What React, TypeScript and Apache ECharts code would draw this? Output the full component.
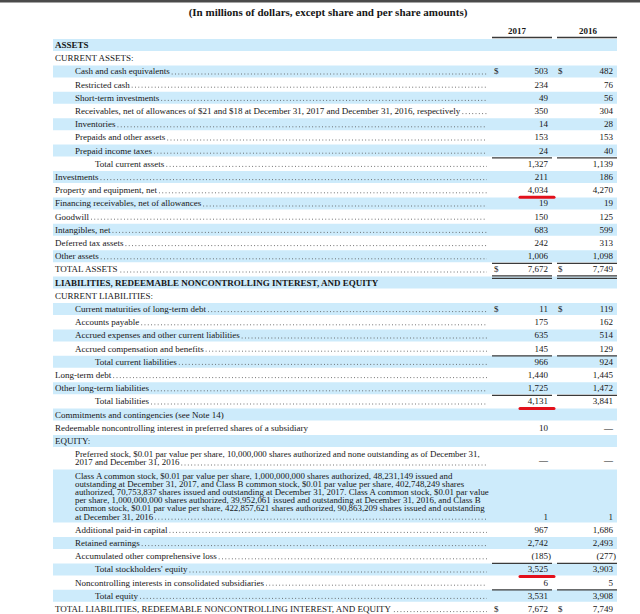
import React, { useEffect, useRef } from "react";
import * as echarts from "echarts";

const title = "(In millions of dollars, except share and per share amounts)";
const yearHeaders = ["2017", "2016"];

const labels = [
  "ASSETS",
  "CURRENT ASSETS:",
  "Cash and cash equivalents",
  "Restricted cash",
  "Short-term investments",
  "Receivables, net of allowances of $21 and $18 at December 31, 2017 and December 31, 2016, respectively",
  "Inventories",
  "Prepaids and other assets",
  "Prepaid income taxes",
  "Total current assets",
  "Investments",
  "Property and equipment, net",
  "Financing receivables, net of allowances",
  "Goodwill",
  "Intangibles, net",
  "Deferred tax assets",
  "Other assets",
  "TOTAL ASSETS",
  "LIABILITIES, REDEEMABLE NONCONTROLLING INTEREST, AND EQUITY",
  "CURRENT LIABILITIES:",
  "Current maturities of long-term debt",
  "Accounts payable",
  "Accrued expenses and other current liabilities",
  "Accrued compensation and benefits",
  "Total current liabilities",
  "Long-term debt",
  "Other long-term liabilities",
  "Total liabilities",
  "Commitments and contingencies (see Note 14)",
  "Redeemable noncontrolling interest in preferred shares of a subsidiary",
  "EQUITY:",
  "Preferred stock, $0.01 par value per share, 10,000,000 shares authorized and none outstanding as of December 31,\n2017 and December 31, 2016",
  "Class A common stock, $0.01 par value per share, 1,000,000,000 shares authorized, 48,231,149 issued and\noutstanding at December 31, 2017, and Class B common stock, $0.01 par value per share, 402,748,249 shares\nauthorized, 70,753,837 shares issued and outstanding at December 31, 2017. Class A common stock, $0.01 par value\nper share, 1,000,000,000 shares authorized, 39,952,061 issued and outstanding at December 31, 2016, and Class B\ncommon stock, $0.01 par value per share, 422,857,621 shares authorized, 90,863,209 shares issued and outstanding\nat December 31, 2016",
  "Additional paid-in capital",
  "Retained earnings",
  "Accumulated other comprehensive loss",
  "Total stockholders' equity",
  "Noncontrolling interests in consolidated subsidiaries",
  "Total equity",
  "TOTAL LIABILITIES, REDEEMABLE NONCONTROLLING INTEREST, AND EQUITY",
];

const indentLevels = [
  0, 0, 1, 1, 1, 1, 1, 1, 1, 2, 0, 0, 0, 0, 0, 0, 0, 0, 0, 0,
  1, 1, 1, 1, 2, 0, 0, 2, 0, 0, 0, 1, 1, 1, 1, 1, 2, 1, 2, 0,
];

const values2017 = [
  "", "", "503", "234", "49", "350", "14", "153", "24", "1,327",
  "211", "4,034", "19", "150", "683", "242", "1,006", "7,672", "", "",
  "11", "175", "635", "145", "966", "1,440", "1,725", "4,131", "", "10",
  "", "—", "1", "967", "2,742", "(185)", "3,525", "6", "3,531", "7,672",
];

const values2016 = [
  "", "", "482", "76", "56", "304", "28", "153", "40", "1,139",
  "186", "4,270", "19", "125", "599", "313", "1,098", "7,749", "", "",
  "119", "162", "514", "129", "924", "1,445", "1,472", "3,841", "", "—",
  "", "—", "1", "1,686", "2,493", "(277)", "3,903", "5", "3,908", "7,749",
];

const boldRows = [0, 18];
const noLeaderRows = [0, 1, 18, 19, 28, 29, 30];
const dollarRows = [2, 17, 20, 39];
const ruleAboveRows = [9, 17, 24, 27, 36, 38];
const doubleRuleBelowRows = [17];
const redMarkRows = [11, 27, 36];

const FONT = '"Liberation Serif", "Times New Roman", serif';

export default function App() {
  const ref = useRef<HTMLDivElement>(null);

  useEffect(() => {
    if (!ref.current) return;
    const chart = echarts.init(ref.current, null, { renderer: "svg" });

    const canvas = document.createElement("canvas");
    const ctx = canvas.getContext("2d")!;
    const measure = (t: string, bold: boolean, size: number) => {
      ctx.font = `${bold ? "bold " : ""}${size}px ${FONT}`;
      return ctx.measureText(t).width;
    };

    const PITCH = 13.2;
    const LINE = 8.2;
    const TOP = 45;
    const indentX = [55, 75, 95];
    const tableLeft = 53;
    const tableRight = 617;
    const leaderEnd = 487;
    const col = [
      { left: 492, right: 552, valueRight: 548, dollar: 494, head: 517 },
      { left: 557, right: 617, valueRight: 613, dollar: 558, head: 588 },
    ];
    const ink = "#161616";
    const ruleColor = "#3a3a3a";

    const firstY: number[] = [];
    const lastY: number[] = [];
    let cursor = TOP;
    labels.forEach((l) => {
      const n = l.split("\n").length;
      firstY.push(cursor);
      const last = cursor + (n - 1) * LINE;
      lastY.push(last);
      cursor = last + PITCH;
    });

    const elements: any[] = [];
    elements.push({
      type: "rect",
      shape: { x: 0, y: 0, width: 640, height: 2.5 },
      style: { fill: "#4a4a4a" },
    });
    elements.push({
      type: "text",
      x: 328,
      y: 12,
      style: {
        text: title,
        fontFamily: FONT,
        fontSize: 11,
        fontWeight: "bold",
        fill: ink,
        align: "center",
        verticalAlign: "middle",
      },
    });
    yearHeaders.forEach((h, c) => {
      elements.push({
        type: "text",
        x: col[c].head,
        y: 31,
        style: {
          text: h,
          fontFamily: FONT,
          fontSize: 9,
          fontWeight: "bold",
          fill: ink,
          align: "center",
          verticalAlign: "middle",
        },
      });
      elements.push({
        type: "line",
        shape: { x1: col[c].left, y1: 37.5, x2: col[c].right, y2: 37.5 },
        style: { stroke: ruleColor, lineWidth: 1.4 },
      });
    });

    // bands
    labels.forEach((_, i) => {
      if (i % 2 !== 0) return;
      elements.push({
        type: "rect",
        shape: {
          x: tableLeft,
          y: firstY[i] - 6,
          width: tableRight - tableLeft,
          height: lastY[i] - firstY[i] + 12,
        },
        style: { fill: "#cdebfb" },
      });
    });

    labels.forEach((l, i) => {
      const bold = boldRows.includes(i);
      const x = indentX[indentLevels[i]];
      const lines = l.split("\n");
      const multi = lines.length > 1;
      const size = multi ? 8.4 : 9;
      const sx = multi ? 1.055 : 1;
      lines.forEach((ln, k) => {
        elements.push({
          type: "text",
          x,
          y: firstY[i] + k * LINE,
          scaleX: sx,
          style: {
            text: ln,
            fontFamily: FONT,
            fontSize: size,
            fontWeight: bold ? "bold" : "normal",
            fill: ink,
            align: "left",
            verticalAlign: "middle",
          },
        });
      });
      if (!noLeaderRows.includes(i)) {
        const w = measure(lines[lines.length - 1], bold, size) * sx;
        const start = x + w + 2;
        if (start < leaderEnd) {
          elements.push({
            type: "line",
            shape: { x1: start, y1: lastY[i] + 2.6, x2: leaderEnd, y2: lastY[i] + 2.6 },
            style: { stroke: "#555", lineWidth: 0.9, lineDash: [0.9, 2.4] },
          });
        }
      }
      [values2017[i], values2016[i]].forEach((v, c) => {
        if (!v) return;
        const neg = v.startsWith("(");
        elements.push({
          type: "text",
          x: col[c].valueRight + (neg ? 3 : 0),
          y: lastY[i] - (v === "—" && multi ? 2 : 0),
          style: {
            text: v,
            fontFamily: FONT,
            fontSize: 9,
            fill: ink,
            align: "right",
            verticalAlign: "middle",
          },
        });
        if (dollarRows.includes(i)) {
          elements.push({
            type: "text",
            x: col[c].dollar,
            y: lastY[i],
            style: {
              text: "$",
              fontFamily: FONT,
              fontSize: 9,
              fill: ink,
              align: "left",
              verticalAlign: "middle",
            },
          });
        }
      });
    });

    // rules
    ruleAboveRows.forEach((i) => {
      col.forEach((c) => {
        elements.push({
          type: "line",
          shape: { x1: c.left, y1: firstY[i] - 6, x2: c.right, y2: firstY[i] - 6 },
          style: { stroke: ruleColor, lineWidth: 1.3 },
        });
      });
    });
    doubleRuleBelowRows.forEach((i) => {
      col.forEach((c) => {
        [6.5, 9].forEach((d) => {
          elements.push({
            type: "line",
            shape: { x1: c.left, y1: lastY[i] + d, x2: c.right, y2: lastY[i] + d },
            style: { stroke: ruleColor, lineWidth: 1.1 },
          });
        });
      });
    });
    redMarkRows.forEach((i) => {
      const c = col[0];
      elements.push({
        type: "line",
        shape: { x1: c.valueRight - 28, y1: lastY[i] + 7, x2: c.valueRight + 6, y2: lastY[i] + 7 },
        style: { stroke: "#e3101b", lineWidth: 3, lineCap: "round" },
      });
    });

    chart.setOption({
      animation: false,
      backgroundColor: "#ffffff",
      graphic: { elements },
    });

    return () => chart.dispose();
  }, []);

  return (
    <div
      ref={ref}
      style={{ position: "fixed", left: 0, top: 0, width: 640, height: 614 }}
    />
  );
}
